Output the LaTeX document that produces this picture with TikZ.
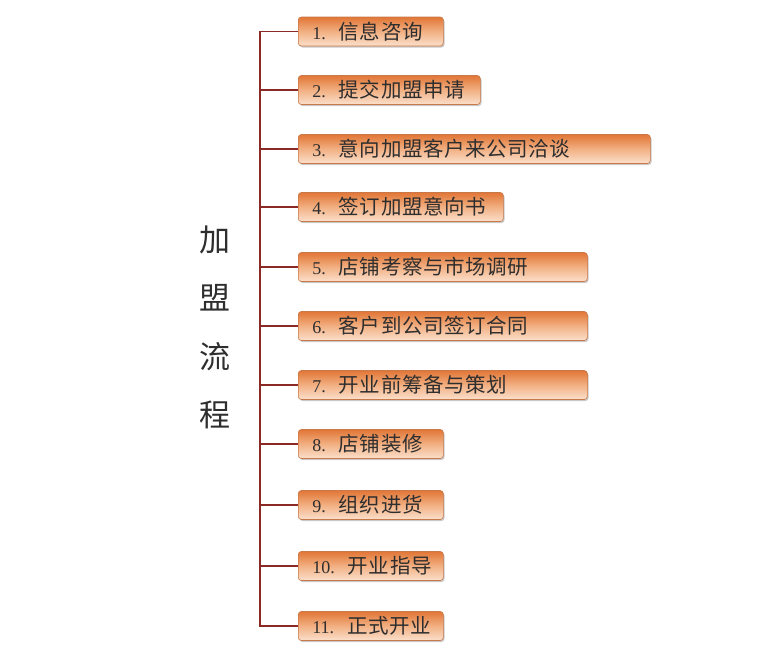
\documentclass[tikz,border=0pt]{standalone}
\usepackage{fontspec}
\setmainfont{Liberation Serif}
\newfontfamily\cjk{Noto Sans CJK SC}
\newfontfamily\cjkbox[LetterSpace=3]{Noto Sans CJK SC}
\usetikzlibrary{shadows}
\definecolor{linec}{HTML}{8B2A24}
\definecolor{boxtop}{HTML}{E17636}
\definecolor{boxmid}{HTML}{F2B083}
\definecolor{boxbot}{HTML}{FBE0CB}
\definecolor{boxedge}{HTML}{C9784A}
\definecolor{txt}{HTML}{2E2E2E}
\tikzset{
  stepbox/.style={draw=boxedge, line width=0.6pt, rounded corners=3pt,
    top color=boxtop, bottom color=boxbot, middle color=boxmid,
    minimum height=29pt, anchor=west, inner xsep=14pt, inner ysep=0pt,
    align=left, text=txt, font=\fontsize{18}{21}\selectfont,
    drop shadow={shadow xshift=1.2pt, shadow yshift=-1.5pt, opacity=0.35, fill=black!60}},
  link/.style={draw=linec, line width=1.9pt},
}
\newcommand{\stepitem}[2]{\mbox{#1.\hspace{13pt}{\cjkbox\fontsize{20.5}{22}\selectfont #2}}}
\begin{document}
\begin{tikzpicture}[x=1pt,y=-1pt]
\useasboundingbox (0,0) rectangle (779,646);
\fill[white] (0,0) rectangle (779,646);
\coordinate (spine) at (260,0);
\node[stepbox, text width=117pt] (b1) at (298,31.5) {\stepitem{1}{信息咨询}};
\node[stepbox, text width=154pt] (b2) at (298,90) {\stepitem{2}{提交加盟申请}};
\node[stepbox, text width=324pt] (b3) at (298,149) {\stepitem{3}{意向加盟客户来公司洽谈}};
\node[stepbox, text width=177pt] (b4) at (298,207) {\stepitem{4}{签订加盟意向书}};
\node[stepbox, text width=261pt] (b5) at (298,267) {\stepitem{5}{店铺考察与市场调研}};
\node[stepbox, text width=261pt] (b6) at (298,326) {\stepitem{6}{客户到公司签订合同}};
\node[stepbox, text width=261pt] (b7) at (298,385) {\stepitem{7}{开业前筹备与策划}};
\node[stepbox, text width=117pt] (b8) at (298,444) {\stepitem{8}{店铺装修}};
\node[stepbox, text width=117pt] (b9) at (298,505) {\stepitem{9}{组织进货}};
\node[stepbox, text width=117pt] (b10) at (298,566) {\stepitem{10}{开业指导}};
\node[stepbox, text width=117pt] (b11) at (298,626) {\stepitem{11}{正式开业}};
\draw[link, line cap=rect] (b1.west -| spine) -- (b11.west -| spine);
\foreach \i in {1,...,11} {
  \draw[link] (b\i.west -| spine) -- (b\i.west);
}
\node[text=txt, align=center, font=\cjk\fontsize{31}{58.3}\selectfont] (title) at (215,327.5) {加\\盟\\流\\程};
\end{tikzpicture}
\end{document}
